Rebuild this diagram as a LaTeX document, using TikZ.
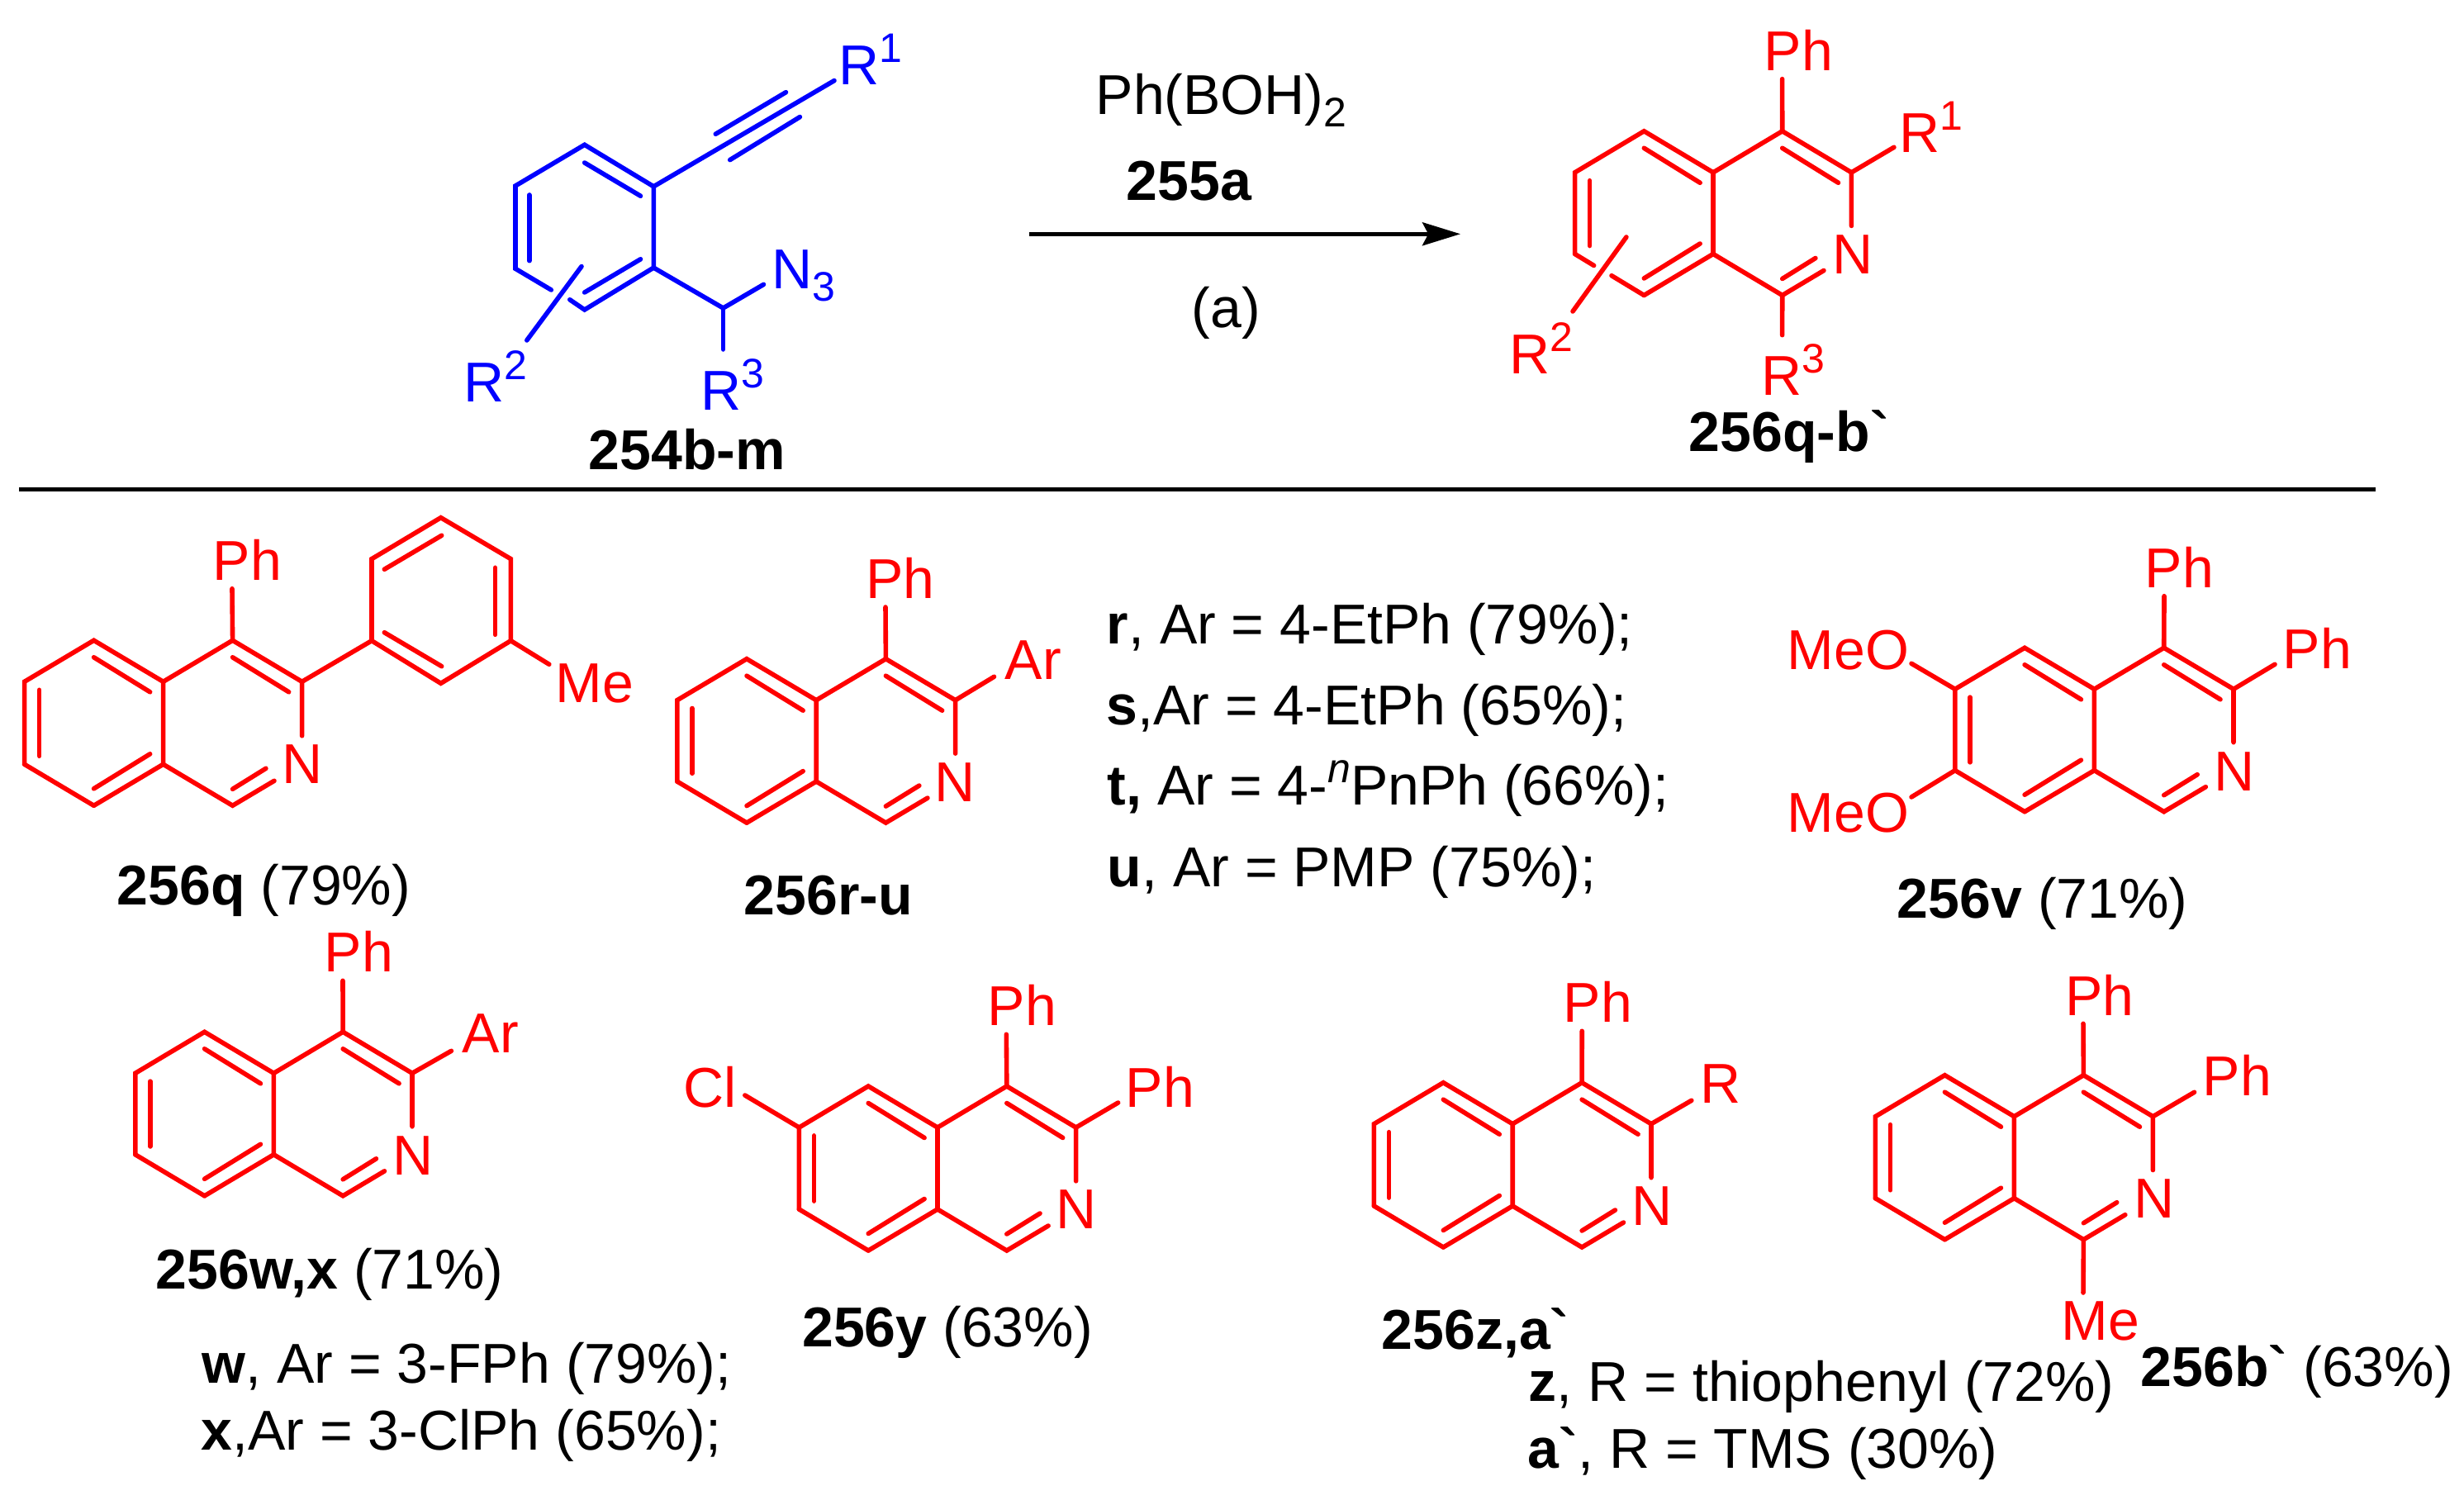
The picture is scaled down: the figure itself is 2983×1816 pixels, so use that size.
\documentclass[tikz,border=0pt]{standalone}
\usepackage{fontspec}
\usetikzlibrary{arrows.meta}
\newfontfamily\arialf{Liberation Sans}
\definecolor{rd}{RGB}{255,0,0}
\definecolor{bl}{RGB}{0,0,255}
\newcommand{\supr}[1]{\raisebox{6.75pt}{\fontsize{12.5pt}{14pt}\selectfont #1}}
\newcommand{\subr}[1]{\raisebox{-3.75pt}{\fontsize{12.5pt}{14pt}\selectfont #1}}
\tikzset{
  lb/.style={anchor=base west,inner sep=0pt,text=black,font=\arialf\fontsize{17pt}{20pt}\selectfont},
  lr/.style={lb,text=rd},
  lu/.style={lb,text=bl},
  bond/.style={line width=1.4pt,draw=rd,line cap=round,line join=miter},
  blue bond/.style={bond,draw=bl},
  rule/.style={line width=1.2pt,draw=black}
}
% name, x0, y0, dx, dy, h
\newcommand{\isoqcore}[6]{%
  \pgfmathsetmacro\xA{#2}\pgfmathsetmacro\xB{#2+#4}\pgfmathsetmacro\xC{#2+2*#4}%
  \pgfmathsetmacro\xD{#2+3*#4}\pgfmathsetmacro\xE{#2+4*#4}%
  \pgfmathsetmacro\yA{#3}\pgfmathsetmacro\yB{#3+#5}\pgfmathsetmacro\yC{#3+#5+#6}%
  \pgfmathsetmacro\yD{#3+2*#5+#6}%
  \coordinate (#1a) at (\xB,\yA);
  \coordinate (#1b) at (\xC,\yB);
  \coordinate (#1c) at (\xC,\yC);
  \coordinate (#1d) at (\xB,\yD);
  \coordinate (#1e) at (\xA,\yC);
  \coordinate (#1f) at (\xA,\yB);
  \coordinate (#1g) at (\xD,\yA);
  \coordinate (#1h) at (\xE,\yB);
  \coordinate (#1i) at (\xD,\yD);
  \coordinate (#1ne) at (\xE,{\yC-.345*#6});
  \coordinate (#1ie) at ({\xD+.6*#4},{\yD-.6*#5});
  \coordinate (#1ta) at (\xB,{\yA+.41*#5});
  \coordinate (#1tb) at ({\xB+.81*#4},{\yA+1.25*#5});
  \coordinate (#1ba) at (\xB,{\yD-.41*#5});
  \coordinate (#1bb) at ({\xB+.81*#4},{\yD-1.25*#5});
  \coordinate (#1la) at ({\xA+.215*#4},{\yB+.1*#6});
  \coordinate (#1lb) at ({\xA+.215*#4},{\yC-.1*#6});
  \coordinate (#1ga) at (\xD,{\yA+.41*#5});
  \coordinate (#1gb) at ({\xD+.81*#4},{\yA+1.25*#5});
  \coordinate (#1ia) at (\xD,{\yD-.4*#5});
  \coordinate (#1ib) at ({\xD+.48*#4},{\yD-.9*#5});
  \draw[bond] (#1e)--(#1f)--(#1a)--(#1b)--(#1c)--(#1d);
  \draw[bond] (#1b)--(#1g)--(#1h)--(#1ne);
  \draw[bond] (#1c)--(#1i)--(#1ie);
  \draw[bond] (#1ta)--(#1tb);
  \draw[bond] (#1ba)--(#1bb);
  \draw[bond] (#1la)--(#1lb);
  \draw[bond] (#1ga)--(#1gb);
  \draw[bond] (#1ia)--(#1ib);
}
\newcommand{\isoq}[6]{\isoqcore{#1}{#2}{#3}{#4}{#5}{#6}\draw[bond] (#1d)--(#1e);}
\begin{document}
\begin{tikzpicture}[x=0.25pt,y=-0.25pt]
\useasboundingbox (0,0) rectangle (2983,1816);
\fill[white] (0,0) rectangle (2983,1816);

% ---------- reactant 254
\coordinate (A1) at (707.7,175.3);
\coordinate (A2) at (791.3,225.8);
\coordinate (A3) at (791.3,324.1);
\coordinate (A4) at (707.7,375);
\coordinate (A5) at (624,325.3);
\coordinate (A6) at (624,225);
\coordinate (A7) at (1010,97.6);
\coordinate (A8) at (875.5,373);
\coordinate (A9) at (924.5,344.4);
\coordinate (A10) at (875.5,423);
\coordinate (A11) at (704,322.6);
\coordinate (A12) at (637.8,412);
\coordinate (A13) at (667.3,351);
\coordinate (A14) at (689.8,362.8);
\draw[blue bond] (A13)--(A5)--(A6)--(A1)--(A2)--(A3)--(A4)--(A14);
\draw[blue bond] (A2)--(A7);
\draw[blue bond] (A3)--(A8)--(A9);
\draw[blue bond] (A8)--(A10);
\draw[blue bond] (A11)--(A12);
\coordinate (B1) at (707.7,197);   \coordinate (B2) at (775.5,237.3);
\coordinate (B3) at (640.8,236);   \coordinate (B4) at (640.8,315.7);
\coordinate (B5) at (707.7,354);   \coordinate (B6) at (775.5,313.8);
\coordinate (B7) at (866.3,162.3); \coordinate (B8) at (951.5,111.7);
\coordinate (B9) at (883.7,193.6); \coordinate (B10) at (968.4,141.6);
\draw[blue bond] (B1)--(B2);
\draw[blue bond] (B3)--(B4);
\draw[blue bond] (B5)--(B6);
\draw[blue bond] (B7)--(B8);
\draw[blue bond] (B9)--(B10);
\node[lu] (r1a) at (1015,102.6) {R\supr{1}};
\node[lu] (n3a) at (934,349.4) {N\subr{3}};
\node[lu] (r3a) at (848,496.4) {R\supr{3}};
\node[lu] (r2a) at (561,486.4) {R\supr{2}};
\node[lb] (t254) at (712,568.7) {\bfseries 254b-m};

% ---------- arrow
\coordinate (arS) at (1246,283.3);
\coordinate (arE) at (1768,283.3);
\draw[rule,-{Stealth[length=11.5pt,width=7pt,inset=1.8pt]}] (arS)--(arE);
\node[lb] (reag) at (1326,138.7) {Ph(BOH)\subr{2}};
\node[lb] (t255) at (1363,242.7) {\bfseries 255a};
\node[lb] (cond) at (1442,396.7) {(a)};

% ---------- product 256
\isoqcore{m}{1906.6}{158.8}{83.7}{50}{98.7}
\coordinate (mP) at (2157.6,95.7);
\coordinate (mR) at (2292.9,178.3);
\coordinate (mS) at (2157.6,405.7);
\coordinate (mG1) at (1929.6,321.5);
\coordinate (mG2) at (1951,333.7);
\coordinate (mX1) at (1968.9,287);
\coordinate (mX2) at (1904,377);
\draw[bond] (mg)--(mP);
\draw[bond] (mh)--(mR);
\draw[bond] (mi)--(mS);
\draw[bond] (me)--(mG1);
\draw[bond] (mG2)--(md);
\draw[bond] (mX1)--(mX2);
\node[lr] (mph) at (2135,85.7) {Ph};
\node[lr] (mr1) at (2299,184.8) {R\supr{1}};
\node[lr] (mr2) at (1827,452.7) {R\supr{2}};
\node[lr] (mr3) at (2132,479) {R\supr{3}};
\node[lr] (mn) at (2218,331.8) {N};
\node[lb] (t256) at (2044,546.5) {\bfseries 256q-b`};

% ---------- separator
\coordinate (ruleL) at (23,592.4);
\coordinate (ruleR) at (2876,592.4);
\draw[rule] (ruleL)--(ruleR);

% ---------- 256q
\isoq{q}{29.6}{775.3}{84}{50}{100}
\coordinate (qP) at (281,712.7);
\coordinate (qA) at (450,775.7);
\coordinate (qB) at (450,676.7);
\coordinate (qC) at (533.7,626.7);
\coordinate (qD) at (618.4,676.7);
\coordinate (qE) at (618.4,775.7);
\coordinate (qF) at (533.7,827.3);
\coordinate (qM) at (664.8,804.3);
\coordinate (qI1) at (465.3,689.3); \coordinate (qI2) at (534.7,648.3);
\coordinate (qI3) at (599.5,687.3); \coordinate (qI4) at (599.5,768.3);
\coordinate (qI5) at (465.3,765.7); \coordinate (qI6) at (534.7,806.7);
\draw[bond] (qg)--(qP);
\draw[bond] (qh)--(qA)--(qB)--(qC)--(qD)--(qE)--(qF)--(qA);
\draw[bond] (qE)--(qM);
\draw[bond] (qI1)--(qI2);
\draw[bond] (qI3)--(qI4);
\draw[bond] (qI5)--(qI6);
\node[lr] (qph) at (257,702.7) {Ph};
\node[lr] (qme) at (672,850.7) {Me};
\node[lr] (qn) at (340.5,948.3) {N};
\node[lb] (tq) at (141,1095) {{\bfseries 256q} (79\%)};

% ---------- 256r-u
\isoq{r}{819.8}{797.7}{84.2}{50}{98.4}
\coordinate (rP) at (1072,735);
\coordinate (rA) at (1203.5,819.3);
\draw[bond] (rg)--(rP);
\draw[bond] (rh)--(rA);
\node[lr] (rph) at (1047.5,725) {Ph};
\node[lr] (rar) at (1216,822.7) {Ar};
\node[lr] (rn) at (1131,970.7) {N};
\node[lb] (tr) at (900,1107.7) {\bfseries 256r-u};
\node[lb] (lr1) at (1339,779.3) {{\bfseries r}, Ar = 4-EtPh (79\%);};
\node[lb] (lr2) at (1339,877.3) {{\bfseries s},Ar = 4-EtPh (65\%);};
\node[lb] (lr3) at (1340,975) {{\bfseries t,} Ar = 4-\raisebox{6.75pt}{\fontsize{12.5pt}{14pt}\selectfont\itshape n}PnPh (66\%);};
\node[lb] (lr4) at (1340,1073.3) {{\bfseries u}, Ar = PMP (75\%);};

% ---------- 256v
\isoq{v}{2366.8}{784.3}{84.3}{50}{98.4}
\coordinate (vP) at (2620,721.7);
\coordinate (vQ) at (2754,804.3);
\coordinate (vO1) at (2314,803.3);
\coordinate (vO2) at (2314,965);
\draw[bond] (vg)--(vP);
\draw[bond] (vh)--(vQ);
\draw[bond] (vf)--(vO1);
\draw[bond] (ve)--(vO2);
\node[lr] (vph) at (2596,711.7) {Ph};
\node[lr] (vpi) at (2763,809.3) {Ph};
\node[lr] (vn) at (2680,957.3) {N};
\node[lr] (vm1) at (2163,810.7) {MeO};
\node[lr] (vm2) at (2163,1007.7) {MeO};
\node[lb] (tv) at (2296,1111.7) {{\bfseries 256v} (71\%)};

% ---------- 256w,x
\isoq{w}{163.8}{1249.3}{83.8}{50}{98.5}
\coordinate (wP) at (415,1187.3);
\coordinate (wA) at (546.4,1272.3);
\draw[bond] (wg)--(wP);
\draw[bond] (wh)--(wA);
\node[lr] (wph) at (392,1176.7) {Ph};
\node[lr] (war) at (559,1274.3) {Ar};
\node[lr] (wn) at (475,1422.3) {N};
\node[lb] (tw) at (188,1560) {{\bfseries 256w,x} (71\%)};
\node[lb] (lw1) at (244,1674) {{\bfseries w}, Ar = 3-FPh (79\%);};
\node[lb] (lw2) at (243,1755.7) {{\bfseries x},Ar = 3-ClPh (65\%);};

% ---------- 256y
\isoq{y}{967.4}{1315}{83.8}{50}{99}
\coordinate (yP) at (1218.3,1252.3);
\coordinate (yQ) at (1353.6,1335);
\coordinate (yC) at (901.8,1326);
\draw[bond] (yg)--(yP);
\draw[bond] (yh)--(yQ);
\draw[bond] (yf)--(yC);
\node[lr] (yph) at (1195,1241.7) {Ph};
\node[lr] (ypi) at (1362,1340.7) {Ph};
\node[lr] (ycl) at (827,1340.7) {Cl};
\node[lr] (yn) at (1278,1487.3) {N};
\node[lb] (ty) at (970.5,1630) {{\bfseries 256y} (63\%)};

% ---------- 256z,a`
\isoq{z}{1663.4}{1310.7}{83.9}{50}{99.3}
\coordinate (zP) at (1915.2,1248.3);
\coordinate (zR) at (2047.8,1332.3);
\draw[bond] (zg)--(zP);
\draw[bond] (zh)--(zR);
\node[lr] (zph) at (1892,1237.7) {Ph};
\node[lr] (zrr) at (2058,1335.7) {R};
\node[lr] (zn) at (1974.5,1483.3) {N};
\node[lb] (tz) at (1672,1633.3) {\bfseries 256z,a`};
\node[lb] (lz1) at (1850,1696) {{\bfseries z}, R = thiophenyl (72\%)};
\node[lb] (lz2) at (1849,1777.3) {{\bfseries a`}, R = TMS (30\%)};

% ---------- 256b`
\isoq{k}{2270.4}{1301.7}{84}{50}{99}
\coordinate (kP) at (2522,1239.3);
\coordinate (kQ) at (2656.5,1322.3);
\coordinate (kM) at (2522,1565);
\draw[bond] (kg)--(kP);
\draw[bond] (kh)--(kQ);
\draw[bond] (ki)--(kM);
\node[lr] (kph) at (2499.5,1229) {Ph};
\node[lr] (kpi) at (2666,1326.7) {Ph};
\node[lr] (kn) at (2582.5,1474.3) {N};
\node[lr] (kme) at (2495,1622.3) {Me};
\node[lb] (tk) at (2591,1678) {{\bfseries 256b`} (63\%)};
\end{tikzpicture}
\end{document}
